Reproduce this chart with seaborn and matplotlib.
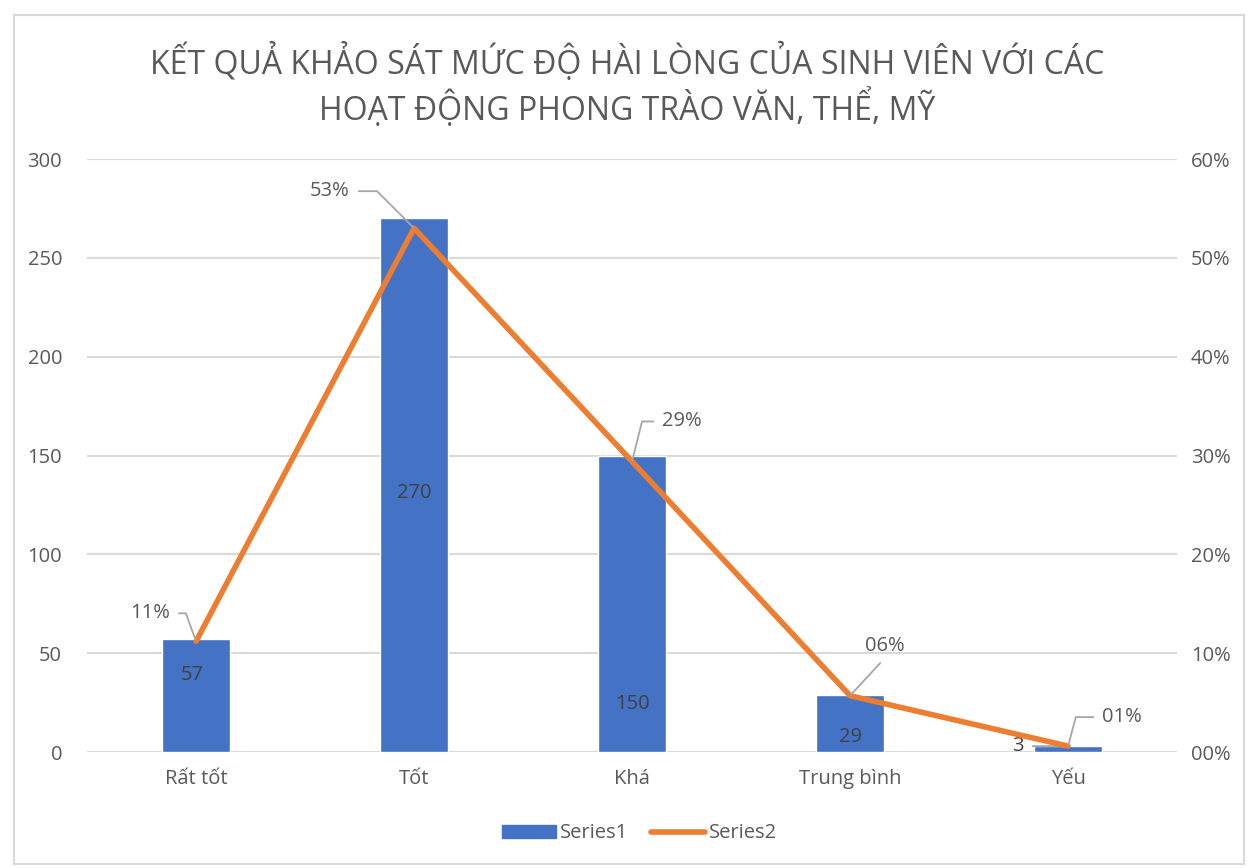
import numpy as np
import pandas as pd
import seaborn as sns
import matplotlib.pyplot as plt
from matplotlib.patches import Rectangle, Patch
from matplotlib.lines import Line2D

# dữ liệu
categories = ['Rất tốt', 'Tốt', 'Khá', 'Trung bình', 'Yếu']
series1 = [57, 270, 150, 29, 3]
series2 = [0.112, 0.530, 0.294, 0.057, 0.006]
left_ticks = [0, 50, 100, 150, 200, 250, 300]
right_ticks = [0, 0.1, 0.2, 0.3, 0.4, 0.5, 0.6]

df = pd.DataFrame({'cat': categories, 's1': series1, 's2': series2,
                   'pos': np.arange(len(categories))})

blue = '#4472C4'
orange = '#ED7D31'
grey = '#595959'
grid = '#D9D9D9'
leader = '#A6A6A6'
fs = 14.5

sns.set_theme(style='white')
plt.rcParams['font.family'] = ['Open Sans', 'DejaVu Sans']

fig = plt.figure(figsize=(12.49, 8.68), dpi=100)
ax = fig.add_axes([0.0697, 0.1336, 0.8727, 0.6832])

sns.barplot(data=df, x='cat', y='s1', color=blue, width=0.31,
            saturation=1, ax=ax)
ax.set_xlim(-0.5, 4.5)
ax.set_ylim(0, 300)
ax.set_yticks(left_ticks)
ax.yaxis.grid(True, color=grid, linewidth=1.5)
ax.set_axisbelow(True)
ax.set_xlabel('')
ax.set_ylabel('')
for s in ax.spines.values():
    s.set_visible(False)
ax.tick_params(axis='both', length=0, labelsize=fs, colors=grey)
ax.tick_params(axis='y', pad=18)
ax.tick_params(axis='x', pad=12)

ax2 = ax.twinx()
sns.lineplot(data=df, x='pos', y='s2', color=orange, linewidth=4,
             sort=False, ax=ax2, legend=False)
ax2.set_ylim(0, 0.6)
ax2.set_yticks(right_ticks)
ax2.set_yticklabels(['{:02.0f}%'.format(v * 100) for v in right_ticks])
ax2.set_ylabel('')
ax2.set_xlabel('')
for s in ax2.spines.values():
    s.set_visible(False)
ax2.tick_params(axis='y', length=0, labelsize=fs, colors=grey, pad=10)
ax2.grid(False)

# nhãn giá trị cột (vị trí kiểu "best fit" của Excel)
bar_offsets = [(-4, -36), (0, -275), (0, -248), (0, -42), (-50, 0)]
for i, (v, off) in enumerate(zip(series1, bar_offsets)):
    if i == 4:
        ax.annotate(str(v), (i, v), xytext=off, textcoords='offset pixels',
                    ha='center', va='center', fontsize=fs, color='#404040',
                    arrowprops=dict(arrowstyle='-', color=leader, lw=1.3,
                                    relpos=(1, 0.5), shrinkA=4, shrinkB=2))
    else:
        ax.annotate(str(v), (i, v), xytext=off, textcoords='offset pixels',
                    ha='center', va='center', fontsize=fs, color='#404040')

# nhãn phần trăm của đường, có đường dẫn gấp khúc như Excel
line_offsets = [(-46, 28), (-84, 37), (50, 40), (35, 50), (54, 29)]
line_relpos = [(1, 0.5), (1, 0.5), (0, 0.5), (0.55, 0), (0, 0.5)]
line_conn = ['angle,angleA=0,angleB=-70,rad=0',
             'angle,angleA=0,angleB=-45,rad=0',
             'angle,angleA=0,angleB=76,rad=0',
             'arc3,rad=0',
             'angle,angleA=0,angleB=75,rad=0']
for i, v in enumerate(series2):
    ax2.annotate('{:02.0f}%'.format(v * 100), (i, v), xytext=line_offsets[i],
                 textcoords='offset pixels', ha='center', va='center',
                 fontsize=fs, color=grey,
                 arrowprops=dict(arrowstyle='-', color=leader, lw=1.3,
                                 relpos=line_relpos[i],
                                 connectionstyle=line_conn[i],
                                 shrinkA=4, shrinkB=1))

fig.text(0.502, 0.902, 'KẾT QUẢ KHẢO SÁT MỨC ĐỘ HÀI LÒNG CỦA SINH VIÊN VỚI CÁC\n'
         'HOẠT ĐỘNG PHONG TRÀO VĂN, THỂ, MỸ', ha='center', va='center',
         fontsize=23, color=grey, linespacing=1.18)

handles = [Patch(facecolor=blue, edgecolor=blue),
           Line2D([0], [0], color=orange, linewidth=4, solid_capstyle='round')]
fig.legend(handles, ['Series1', 'Series2'], loc='center',
           bbox_to_anchor=(0.512, 0.04), ncol=2, frameon=False,
           fontsize=fs, labelcolor=grey, handlelength=2.7, handleheight=0.6,
           handletextpad=0.2, columnspacing=1.1)

fig.patches.append(Rectangle((0.011, 0.005), 0.985, 0.978,
                             transform=fig.transFigure, fill=False,
                             edgecolor=grid, linewidth=1.5))

fig.savefig('out.png', dpi=100)
